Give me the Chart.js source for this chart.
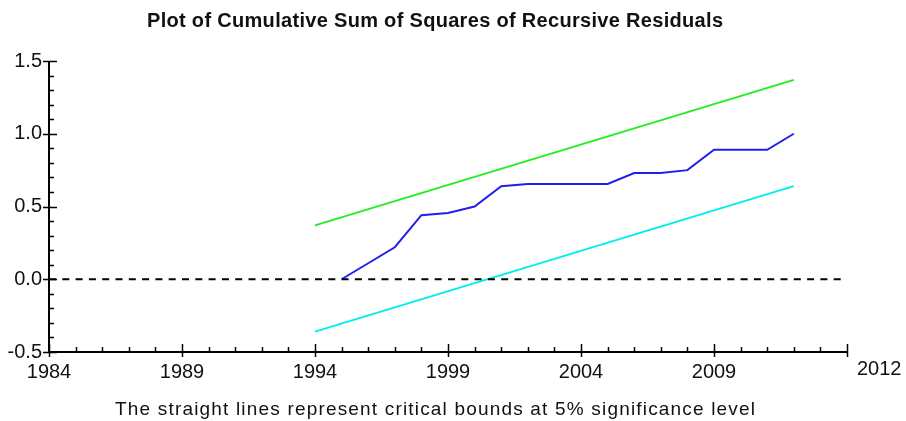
<!DOCTYPE html>
<html>
<head>
<meta charset="utf-8">
<script src="https://cdn.jsdelivr.net/npm/chart.js@4/dist/chart.umd.min.js"></script>
<style>
  body { margin: 0; background: #fff; }
  canvas { display: block; }
</style>
</head>
<body>
<canvas id="cusumChart" width="906" height="421"></canvas>
<script>
// data
var years = [1995, 1996, 1997, 1998, 1999, 2000, 2001, 2002, 2003, 2004, 2005, 2006, 2007, 2008, 2009, 2010, 2011, 2012];
var cusumSq = [0.00, 0.11, 0.22, 0.44, 0.455, 0.50, 0.64, 0.655, 0.655, 0.655, 0.655, 0.73, 0.73, 0.75, 0.89, 0.89, 0.89, 1.00];
var boundYears = [1994, 2012];
var upperBound = [0.37, 1.37];
var lowerBound = [-0.36, 0.64];
var zeroYears = [1984, 2014];
var zeroLine = [0, 0];
var xLabels = [1984, 1989, 1994, 1999, 2004, 2009];
var lastLabel = '2012';
var titleText = 'Plot of Cumulative Sum of Squares of Recursive Residuals';
var captionText = 'The straight lines represent critical bounds at 5% significance level';

function pts(xs, ys) {
    return xs.map(function (x, i) { return { x: x, y: ys[i] }; });
}

var FONT = '"Liberation Sans", Arial, sans-serif';

// draws axis lines, tick marks, title and caption
var frame = {
    id: 'frame',
    afterDraw: function (chart) {
        var ctx = chart.ctx, xs = chart.scales.x, ys = chart.scales.y;
        var a = chart.chartArea;
        ctx.save();
        ctx.strokeStyle = '#000';
        ctx.lineWidth = 2;
        ctx.beginPath();
        ctx.moveTo(a.left, a.top);
        ctx.lineTo(a.left, a.bottom);
        ctx.lineTo(a.right, a.bottom);
        ctx.stroke();
        ctx.lineWidth = 1.5;
        ctx.beginPath();
        for (var yr = 1984; yr <= 2014; yr++) {
            var px = Math.round(xs.getPixelForValue(yr)) + 0.5;
            if ((yr - 1984) % 5 === 0 || yr === 2014) {
                ctx.moveTo(px, a.bottom - 8); ctx.lineTo(px, a.bottom + 5);
            } else {
                ctx.moveTo(px, a.bottom - 5); ctx.lineTo(px, a.bottom);
            }
        }
        for (var k = -5; k <= 15; k++) {
            var py = Math.round(ys.getPixelForValue(k / 10)) + 0.5;
            if (k % 5 === 0) {
                ctx.moveTo(a.left - 6, py); ctx.lineTo(a.left + 8, py);
            } else {
                ctx.moveTo(a.left, py); ctx.lineTo(a.left + 5, py);
            }
        }
        ctx.stroke();

        ctx.fillStyle = '#111';
        ctx.textBaseline = 'alphabetic';
        ctx.textAlign = 'left';
        ctx.font = '20px ' + FONT;
        ctx.fillText(lastLabel, a.right + 10, 375);

        function spaced(text, font, left, right, base) {
            ctx.font = font;
            ctx.letterSpacing = '0px';
            var w = ctx.measureText(text).width;
            var sp = ((right - left) - w) / (text.length - 1);
            ctx.letterSpacing = sp + 'px';
            ctx.fillText(text, left, base);
            ctx.letterSpacing = '0px';
        }
        spaced(titleText, 'bold 20px ' + FONT, 147, 723, 27);
        spaced(captionText, '19px ' + FONT, 115, 755, 415);
        ctx.restore();
    }
};

var ctx1 = document.getElementById('cusumChart').getContext('2d');
var cusumChart = new Chart(ctx1, {
    type: 'scatter',
    data: {
        datasets: [{
            data: pts(zeroYears, zeroLine),
            borderColor: '#000',
            borderWidth: 2,
            borderDash: [7, 6.3],
            showLine: true,
            pointRadius: 0
        }, {
            data: pts(boundYears, upperBound),
            borderColor: '#22ee22',
            borderWidth: 2,
            showLine: true,
            pointRadius: 0
        }, {
            data: pts(boundYears, lowerBound),
            borderColor: '#00eeee',
            borderWidth: 2,
            showLine: true,
            pointRadius: 0
        }, {
            data: pts(years, cusumSq),
            borderColor: '#2020ee',
            borderWidth: 2,
            showLine: true,
            pointRadius: 0
        }]
    },
    options: {
        responsive: false,
        animation: false,
        layout: { padding: { left: 0, right: 59, top: 61, bottom: 0 } },
        plugins: {
            legend: { display: false },
            tooltip: { enabled: false }
        },
        scales: {
            x: {
                type: 'linear',
                min: 1984,
                max: 2014,
                grid: { display: false, drawTicks: false },
                border: { display: false },
                afterFit: function (s) { s.height = 69; },
                ticks: {
                    stepSize: 1,
                    autoSkip: false,
                    maxRotation: 0,
                    padding: 8,
                    color: '#111',
                    font: { family: FONT, size: 20 },
                    callback: function (v) { return xLabels.indexOf(v) >= 0 ? String(v) : ''; }
                }
            },
            y: {
                min: -0.5,
                max: 1.5,
                grid: { display: false, drawTicks: false },
                border: { display: false },
                afterFit: function (s) { s.width = 49; },
                ticks: {
                    stepSize: 0.1,
                    autoSkip: false,
                    padding: 7,
                    color: '#111',
                    font: { family: FONT, size: 20 },
                    callback: function (v) {
                        var k = Math.round(v * 10);
                        return k % 5 === 0 ? (k / 10).toFixed(1) : '';
                    }
                }
            }
        }
    },
    plugins: [frame]
});
</script>
</body>
</html>
